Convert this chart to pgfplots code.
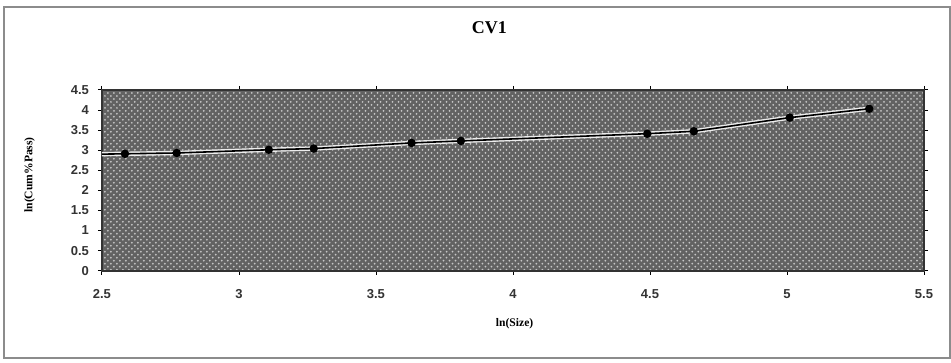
\documentclass[border=0pt]{standalone}
\usepackage{pgfplots}
\pgfplotsset{compat=1.18}
\usepackage{fontspec}
\setmainfont{Liberation Serif}
\newfontfamily\tickfont{Liberation Sans}
\usetikzlibrary{patterns}
\definecolor{bggray}{RGB}{98,98,98}
\definecolor{framegray}{RGB}{140,140,140}
\begin{document}
\begin{tikzpicture}
\begin{axis}[
  scale only axis,
  width=411.5pt, height=90.5pt,
  xmin=2.5, xmax=5.5, ymin=0, ymax=4.5,
  xtick={2.5,3,3.5,4,4.5,5,5.5},
  ytick={0,0.5,1,1.5,2,2.5,3,3.5,4,4.5},
  /pgf/number format/assume math mode=true,
  /pgf/number format/fixed,
  ticklabel style={font=\tickfont\bfseries\fontsize{6.5}{7}\selectfont, text=black!80},
  xticklabel style={yshift=-4pt},
  yticklabel style={xshift=-1pt},
  tick align=outside,
  major tick length=2pt,
  tick style={black, line width=0.4pt},
  axis line style={black!80, line width=0.8pt},
  axis background/.style={fill=bggray, postaction={pattern=crosshatch dots, pattern color=white!55!gray}},
  clip=true,
  title={\bfseries\fontsize{9}{10}\selectfont CV1},
  title style={at={(rel axis cs:0.4714,1.276)}, anchor=center},
  xlabel={\bfseries\fontsize{5.8}{6}\selectfont ln(Size)},
  xlabel style={at={(rel axis cs:0.502,-0.295)}, anchor=center},
  ylabel={\bfseries\fontsize{5.8}{6}\selectfont ln(Cum\%Pass)},
  ylabel style={at={(rel axis cs:-0.088,0.53)}, anchor=center, rotate=0},
]
\addplot[white!85!gray, line width=2.2pt, mark=none, forget plot] coordinates {
 (2.40,2.89) (2.584,2.91) (2.773,2.93) (3.109,3.01) (3.273,3.04) (3.63,3.18) (3.81,3.23) (4.49,3.41) (4.66,3.47) (5.01,3.81) (5.30,4.03)
};
\addplot[black, line width=0.8pt, mark=*, mark size=1.7pt, mark options={fill=black}] coordinates {
 (2.40,2.89) (2.584,2.91) (2.773,2.93) (3.109,3.01) (3.273,3.04) (3.63,3.18) (3.81,3.23) (4.49,3.41) (4.66,3.47) (5.01,3.81) (5.30,4.03)
};
\coordinate (bbsw) at (rel axis cs:-0.12394,-0.50829);
\coordinate (bbne) at (rel axis cs:1.03280,1.49724);
\coordinate (frsw) at (rel axis cs:-0.1191,-0.4807);
\coordinate (frne) at (rel axis cs:1.0316,1.4586);
\end{axis}
\draw[framegray, line width=1pt] (frsw) rectangle (frne);
\useasboundingbox (bbsw) rectangle (bbne);
\end{tikzpicture}
\end{document}
